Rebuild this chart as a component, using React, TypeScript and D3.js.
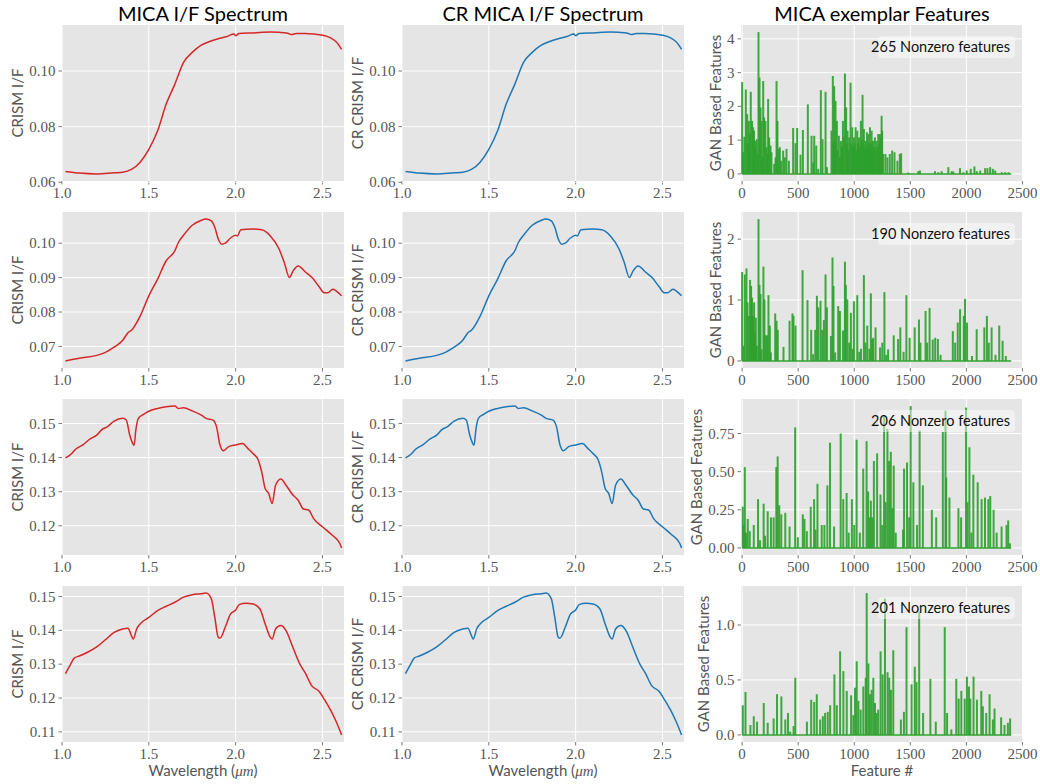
import React from 'react';
import * as d3 from 'd3';

const titles = ['MICA I/F Spectrum', 'CR MICA I/F Spectrum', 'MICA exemplar Features'];
const yLabels = ['CRISM I/F', 'CR CRISM I/F', 'GAN Based Features'];
const xLabels = ['Wavelength (', 'Feature #'];

// spectra: [wavelength um, I/F]
const spectrum1: [number, number][] = [
  [1.02, 0.0639], [1.1, 0.0633], [1.2, 0.0630], [1.3, 0.0634], [1.35, 0.0636], [1.4, 0.0646],
  [1.45, 0.0672], [1.5, 0.0718], [1.55, 0.0784], [1.6, 0.0881], [1.65, 0.0953], [1.7, 0.1031],
  [1.75, 0.1067], [1.8, 0.1092], [1.85, 0.1106], [1.9, 0.1116], [1.95, 0.1124], [1.99, 0.1133],
  [2.0, 0.1127], [2.02, 0.1135], [2.1, 0.1137], [2.2, 0.1140], [2.25, 0.1139], [2.3, 0.1136],
  [2.32, 0.1131], [2.35, 0.1135], [2.4, 0.1135], [2.45, 0.1133], [2.5, 0.1129], [2.55, 0.1118],
  [2.58, 0.1104], [2.61, 0.1078],
];
const spectrum2: [number, number][] = [
  [1.02, 0.0658], [1.1, 0.0666], [1.2, 0.0674], [1.25, 0.0683], [1.3, 0.0698], [1.35, 0.0718],
  [1.38, 0.0740], [1.4, 0.0747], [1.45, 0.0788], [1.5, 0.0847], [1.55, 0.0895], [1.6, 0.0949],
  [1.65, 0.0978], [1.67, 0.1002], [1.7, 0.1023], [1.75, 0.1052], [1.8, 0.1066], [1.83, 0.1070],
  [1.86, 0.1065], [1.88, 0.1046], [1.9, 0.1012], [1.92, 0.0997], [1.94, 0.1000], [1.97, 0.1015],
  [2.0, 0.1023], [2.01, 0.1021], [2.03, 0.1039], [2.1, 0.1041], [2.15, 0.1039], [2.2, 0.1021],
  [2.25, 0.0983], [2.28, 0.0944], [2.31, 0.0900], [2.33, 0.0919], [2.36, 0.0934], [2.4, 0.0917],
  [2.44, 0.0900], [2.48, 0.0874], [2.51, 0.0856], [2.53, 0.0856], [2.56, 0.0866], [2.58, 0.0861],
  [2.61, 0.0847],
];
const spectrum3: [number, number][] = [
  [1.02, 0.1399], [1.05, 0.1409], [1.08, 0.1425], [1.12, 0.1437], [1.16, 0.1454], [1.2, 0.1466],
  [1.23, 0.1482], [1.26, 0.1490], [1.3, 0.1507], [1.35, 0.1515], [1.37, 0.1510], [1.39, 0.1466],
  [1.405, 0.1444], [1.415, 0.1436], [1.425, 0.1480], [1.44, 0.1515], [1.47, 0.1527], [1.5, 0.1536],
  [1.55, 0.1544], [1.6, 0.1549], [1.65, 0.1551], [1.67, 0.1544], [1.7, 0.1546], [1.75, 0.1537],
  [1.8, 0.1525], [1.83, 0.1515], [1.87, 0.1510], [1.89, 0.1490], [1.91, 0.1437], [1.93, 0.1420],
  [1.96, 0.1432], [2.0, 0.1437], [2.04, 0.1441], [2.07, 0.1427], [2.1, 0.1412], [2.13, 0.1393],
  [2.15, 0.1358], [2.17, 0.1309], [2.19, 0.1295], [2.21, 0.1265], [2.23, 0.1319], [2.26, 0.1337],
  [2.29, 0.1319], [2.33, 0.1290], [2.36, 0.1275], [2.39, 0.1249], [2.42, 0.1246], [2.45, 0.1220],
  [2.5, 0.1197], [2.55, 0.1175], [2.6, 0.1148], [2.61, 0.1135],
];
const spectrum4: [number, number][] = [
  [1.02, 0.1272], [1.05, 0.1300], [1.07, 0.1318], [1.1, 0.1324], [1.15, 0.1336], [1.2, 0.1351],
  [1.25, 0.1372], [1.3, 0.1394], [1.35, 0.1404], [1.38, 0.1406], [1.4, 0.1384], [1.41, 0.1374],
  [1.43, 0.1404], [1.46, 0.1424], [1.5, 0.1438], [1.55, 0.1458], [1.6, 0.1471], [1.65, 0.1483],
  [1.7, 0.1498], [1.75, 0.1505], [1.8, 0.1508], [1.83, 0.1510], [1.86, 0.1493], [1.88, 0.1438],
  [1.9, 0.1379], [1.91, 0.1377], [1.94, 0.1409], [1.97, 0.1448], [2.0, 0.1460], [2.02, 0.1476],
  [2.06, 0.1480], [2.1, 0.1478], [2.14, 0.1463], [2.17, 0.1419], [2.2, 0.1379], [2.21, 0.1374],
  [2.23, 0.1404], [2.26, 0.1414], [2.29, 0.1399], [2.33, 0.1349], [2.37, 0.1300], [2.4, 0.1275],
  [2.44, 0.1235], [2.48, 0.1220], [2.5, 0.1205], [2.55, 0.1161], [2.58, 0.1129], [2.61, 0.1091],
];
const spectra = [spectrum1, spectrum2, spectrum3, spectrum4];
const spectrumYTicks = [
  [0.06, 0.08, 0.10],
  [0.07, 0.08, 0.09, 0.10],
  [0.12, 0.13, 0.14, 0.15],
  [0.11, 0.12, 0.13, 0.14, 0.15],
];
const wavelengthTicks = [1.0, 1.5, 2.0, 2.5];

// nonzero GAN features: [feature index, value]
const features1: [number, number][] = [
  [0, 2.72], [9, 0.64], [20, 1.1], [33, 2.5], [45, 1.77], [52, 0.9], [60, 1.57], [68, 1.2], [77, 2.43],
  [89, 1.57], [98, 1.38], [107, 1.28], [113, 0.8], [119, 0.98], [131, 1.03], [138, 0.6], [146, 4.2],
  [155, 2.85], [164, 1.97], [173, 1.57], [180, 0.5], [188, 2.75], [196, 1.67], [208, 1.57],
  [217, 0.79], [225, 0.6], [232, 2.22], [241, 1.08], [253, 0.84], [262, 0.64], [286, 0.3],
  [298, 0.49], [307, 2.75], [315, 1.57], [327, 0.74], [336, 0.79], [348, 0.39], [366, 0.69],
  [381, 0.49], [396, 0.74], [417, 0.39], [455, 1.36], [476, 0.91], [491, 1.36], [521, 0.57],
  [542, 1.3], [586, 2.06], [619, 1.13], [634, 0.34], [643, 1.13], [661, 0.84], [679, 0.15],
  [702, 2.48], [717, 1.03], [744, 2.43], [756, 0.2], [797, 1.28], [809, 2.9], [815, 0.9],
  [821, 2.6], [827, 1.0], [833, 2.16], [845, 1.57], [851, 0.7], [863, 1.13], [872, 0.5],
  [881, 0.98], [890, 0.8], [899, 1.57], [905, 1.1], [917, 2.97], [928, 1.97], [934, 0.9],
  [940, 1.28], [948, 0.7], [955, 1.08], [967, 2.7], [975, 0.9], [982, 1.38], [990, 0.8],
  [997, 1.08], [1005, 0.9], [1012, 1.38], [1020, 0.7], [1027, 1.28], [1035, 0.9], [1042, 1.08],
  [1050, 0.8], [1059, 1.57], [1066, 1.0], [1074, 2.34], [1080, 0.9], [1086, 1.33], [1092, 0.7],
  [1098, 0.98], [1105, 0.8], [1113, 1.23], [1119, 0.9], [1125, 1.18], [1132, 0.8], [1140, 1.38],
  [1147, 0.9], [1155, 1.28], [1160, 0.7], [1167, 0.98], [1175, 0.8], [1184, 1.08], [1190, 0.7],
  [1199, 0.98], [1206, 0.8], [1214, 1.18], [1221, 0.9], [1229, 1.18], [1237, 1.05], [1244, 1.72],
  [1249, 1.28], [1258, 0.59], [1278, 0.59], [1296, 0.49], [1317, 0.59], [1338, 0.69],
  [1359, 0.64], [1385, 0.39], [1406, 0.59], [1418, 0.61], [1481, 0.04], [1571, 0.08],
  [1586, 0.1], [1720, 0.08], [1750, 0.05], [1780, 0.08], [1839, 0.2], [1869, 0.08], [1884, 0.07],
  [1943, 0.17], [1973, 0.05], [2003, 0.1], [2039, 0.15], [2072, 0.22], [2093, 0.08], [2123, 0.1],
  [2167, 0.17], [2188, 0.17], [2212, 0.2], [2236, 0.15], [2257, 0.1], [2316, 0.05], [2346, 0.05],
  [2376, 0.05],
];
const features2: [number, number][] = [
  [0, 1.46], [12, 0.25], [24, 1.42], [39, 1.52], [48, 0.96], [60, 0.74], [71, 1.33], [80, 1.23],
  [89, 1.04], [98, 0.74], [107, 0.96], [113, 0.47], [122, 0.71], [131, 0.25], [146, 2.33],
  [155, 1.25], [164, 1.1], [173, 0.19], [190, 1.55], [199, 1.01], [211, 0.42], [223, 0.42],
  [235, 1.08], [247, 0.58], [256, 0.14], [295, 0.78], [307, 0.66], [318, 0.51], [369, 0.23],
  [423, 0.66], [449, 0.78], [458, 0.74], [476, 0.58], [539, 1.49], [583, 1.0], [616, 0.51],
  [634, 0.11], [652, 0.51], [667, 1.07], [679, 0.88], [699, 0.99], [714, 0.51], [729, 0.67],
  [744, 1.42], [756, 0.88], [792, 0.41], [806, 1.7], [815, 1.23], [830, 0.14], [857, 0.9],
  [872, 0.82], [900, 0.5], [917, 1.63], [925, 1.25], [938, 1.01], [955, 0.3], [970, 0.79],
  [985, 0.2], [997, 0.98], [1027, 1.08], [1045, 0.15], [1060, 0.2], [1086, 1.41], [1100, 0.3],
  [1116, 0.58], [1135, 0.2], [1148, 1.11], [1160, 0.35], [1169, 0.38], [1190, 0.55],
  [1230, 0.22], [1250, 0.3], [1269, 1.13], [1285, 0.1], [1302, 0.19], [1352, 0.42], [1391, 0.36],
  [1411, 0.55], [1440, 0.15], [1465, 1.08], [1494, 0.38], [1539, 0.55], [1577, 0.68], [1590, 0.3],
  [1636, 0.82], [1650, 0.3], [1672, 0.87], [1700, 0.35], [1722, 0.38], [1746, 0.36], [1770, 0.1],
  [1879, 0.49], [1900, 0.3], [1923, 0.63], [1944, 0.85], [1977, 0.74], [1988, 1.02], [2006, 0.63],
  [2050, 0.08], [2092, 0.52], [2160, 0.55], [2183, 0.74], [2200, 0.3], [2225, 0.55], [2260, 0.1],
  [2293, 0.58], [2323, 0.33], [2352, 0.08],
];
const features3: [number, number][] = [
  [6, 0.27], [15, 0.15], [24, 0.53], [35, 0.1], [50, 0.19], [68, 0.11], [104, 0.15], [142, 0.32],
  [160, 0.05], [192, 0.29], [205, 0.08], [228, 0.24], [257, 0.2], [281, 0.2], [305, 0.53],
  [317, 0.6], [331, 0.28], [349, 0.22], [385, 0.23], [423, 0.14], [473, 0.79], [497, 0.07],
  [541, 0.22], [556, 0.19], [577, 0.11], [612, 0.27], [642, 0.32], [655, 0.12], [672, 0.42],
  [710, 0.15], [734, 0.15], [760, 0.41], [784, 0.69], [820, 0.14], [879, 0.75], [902, 0.32],
  [932, 0.36], [950, 0.1], [979, 0.32], [1000, 0.15], [1021, 0.71], [1050, 0.1], [1080, 0.52],
  [1110, 0.7], [1124, 0.37], [1135, 0.2], [1148, 0.31], [1160, 0.2], [1175, 0.57], [1204, 0.62],
  [1234, 0.35], [1250, 0.15], [1266, 0.86], [1280, 0.3], [1296, 0.78], [1311, 0.57], [1326, 0.63],
  [1340, 0.26], [1352, 0.54], [1370, 0.1], [1435, 0.12], [1444, 0.52], [1471, 0.56], [1490, 0.2],
  [1503, 0.93], [1527, 0.43], [1560, 0.15], [1583, 0.77], [1612, 0.41], [1692, 0.25],
  [1731, 0.2], [1790, 0.76], [1814, 0.9], [1820, 0.46], [1849, 0.33], [1929, 0.26], [1953, 0.2],
  [1997, 0.92], [2010, 0.3], [2027, 0.66], [2045, 0.1], [2062, 0.48], [2101, 0.43], [2136, 0.32],
  [2166, 0.33], [2196, 0.32], [2213, 0.34], [2243, 0.25], [2270, 0.1], [2314, 0.14], [2358, 0.15],
  [2373, 0.18], [2388, 0.03],
];
const features4: [number, number][] = [
  [6, 0.27], [30, 0.39], [74, 0.09], [104, 0.17], [133, 0.12], [193, 0.29], [228, 0.11],
  [281, 0.15], [311, 0.37], [350, 0.35], [385, 0.14], [409, 0.2], [429, 0.03], [459, 0.08],
  [474, 0.52], [578, 0.12], [616, 0.32], [643, 0.3], [666, 0.37], [696, 0.14], [720, 0.17],
  [740, 0.2], [764, 0.21], [785, 0.27], [823, 0.55], [844, 0.27], [874, 0.76], [903, 0.58],
  [933, 0.4], [972, 0.36], [992, 0.18], [1007, 0.43], [1022, 0.67], [1037, 0.31], [1057, 0.23],
  [1081, 0.44], [1102, 0.52], [1111, 1.29], [1126, 0.65], [1140, 0.37], [1155, 0.41],
  [1170, 0.52], [1185, 0.29], [1200, 0.2], [1214, 0.23], [1235, 0.76], [1253, 0.55], [1274, 1.24],
  [1297, 0.57], [1312, 0.52], [1327, 0.41], [1348, 0.77], [1416, 0.14], [1443, 0.21], [1466, 0.98],
  [1511, 0.46], [1540, 0.62], [1555, 0.48], [1579, 1.12], [1614, 0.2], [1679, 0.51], [1727, 0.12],
  [1807, 0.98], [1828, 0.2], [1866, 0.05], [1910, 0.51], [1931, 0.33], [1955, 0.4], [1985, 0.33],
  [2005, 0.53], [2023, 0.44], [2035, 0.33], [2064, 0.53], [2094, 0.32], [2133, 0.4], [2147, 0.26],
  [2177, 0.2], [2207, 0.37], [2236, 0.14], [2251, 0.24], [2310, 0.16], [2340, 0.09], [2370, 0.11],
  [2390, 0.15],
];
const featureSets = [features1, features2, features3, features4];
const nonzeroCounts = [265, 190, 206, 201];
const featureYTicks = [[0, 1, 2, 3, 4], [0, 1, 2], [0, 0.25, 0.5, 0.75], [0, 0.5, 1.0]];
const featureYFormats = ['d', 'd', '.2f', '.1f'];
const featureXTicks = [0, 500, 1000, 1500, 2000, 2500];
const N_FEATURES = 2400;

const colLeft = [62, 402, 741];
const plotW = 282;
const plotH = 156;
const rowTop = (r: number) => 25 + r * 187;

const tickFont = 'Liberation Serif, serif';
const sansFont = 'Lato, Open Sans, sans-serif';
const grey = '#555555';
const TICK_SIZE = 15;

function pad(lo: number, hi: number): [number, number] {
  const m = (hi - lo) * 0.05;
  return [lo - m, hi + m];
}

// rough width of a serif tick label, used to place the y-axis title like matplotlib does
function labelWidth(s: string) {
  let w = 0;
  for (const ch of s) w += ch === '.' ? 0.25 : 0.5;
  return w * TICK_SIZE;
}

function Frame({ x, y, xs, ys, xTicks, yTicks, xFmt, yFmt, yLabel }: any) {
  const yTexts = yTicks.map((t: number) => d3.format(yFmt)(t));
  const maxW = d3.max(yTexts, (s: string) => labelWidth(s)) as number;
  return (
    <g>
      <rect x={x} y={y} width={plotW} height={plotH} fill="#E5E5E5" />
      {xTicks.map((t: number) => (
        <g key={'x' + t}>
          <line x1={xs(t)} x2={xs(t)} y1={y} y2={y + plotH} stroke="#fff" strokeWidth={1} />
          <line x1={xs(t)} x2={xs(t)} y1={y + plotH} y2={y + plotH + 3.5} stroke={grey} strokeWidth={0.8} />
          <text x={xs(t)} y={y + plotH + 17} textAnchor="middle" style={{ fontFamily: tickFont, fontSize: TICK_SIZE }} fill={grey}>
            {d3.format(xFmt)(t)}
          </text>
        </g>
      ))}
      {yTicks.map((t: number, i: number) => (
        <g key={'y' + t}>
          <line x1={x} x2={x + plotW} y1={ys(t)} y2={ys(t)} stroke="#fff" strokeWidth={1} />
          <line x1={x - 3.5} x2={x} y1={ys(t)} y2={ys(t)} stroke={grey} strokeWidth={0.8} />
          <text x={x - 6.5} y={ys(t)} dy="0.34em" textAnchor="end" style={{ fontFamily: tickFont, fontSize: TICK_SIZE }} fill={grey}>
            {yTexts[i]}
          </text>
        </g>
      ))}
      <text transform={`translate(${x - 8 - maxW - 5},${y + plotH / 2}) rotate(-90)`} textAnchor="middle"
        style={{ fontFamily: sansFont, fontSize: 15 }} fill={grey}>{yLabel}</text>
    </g>
  );
}

function SpectrumPanel({ row, col, color }: { row: number; col: number; color: string }) {
  const data = spectra[row];
  const x = colLeft[col];
  const y = rowTop(row);
  const xs = d3.scaleLinear().domain([1.0, 2.624]).range([x, x + plotW]);
  const ext = d3.extent(data, (d) => d[1]) as [number, number];
  const ys = d3.scaleLinear().domain(pad(ext[0], ext[1])).range([y + plotH, y]);
  const line = d3.line<[number, number]>()
    .curve(d3.curveMonotoneX)
    .x((d) => xs(d[0]))
    .y((d) => ys(d[1]));
  return (
    <g>
      <Frame x={x} y={y} xs={xs} ys={ys} xTicks={wavelengthTicks} yTicks={spectrumYTicks[row]} xFmt=".1f" yFmt=".2f" yLabel={yLabels[col]} />
      <path d={line(data) || ''} fill="none" stroke={color} strokeWidth={1.5} />
    </g>
  );
}

function FeaturePanel({ row }: { row: number }) {
  const data = featureSets[row];
  const x = colLeft[2];
  const y = rowTop(row);
  const xs = d3.scaleLinear().domain([-10, 2505]).range([x, x + plotW]);
  const ys = d3.scaleLinear().domain(pad(0, d3.max(data, (d) => d[1]) as number)).range([y + plotH, y]);
  const boxW = 137;
  const boxX = x + plotW - 8 - boxW;
  const boxY = y + 11;
  return (
    <g>
      <Frame x={x} y={y} xs={xs} ys={ys} xTicks={featureXTicks} yTicks={featureYTicks[row]} xFmt="d" yFmt={featureYFormats[row]} yLabel={yLabels[2]} />
      <line x1={xs(0)} x2={xs(N_FEATURES)} y1={ys(0)} y2={ys(0)} stroke="#2ca02c" strokeWidth={1.5} />
      {data.map((d) => (
        <rect key={d[0]} x={xs(d[0]) - 1} width={2} y={ys(d[1])} height={ys(0) - ys(d[1])}
          fill="#2ca02c" fillOpacity={0.9} />
      ))}
      <rect x={boxX} y={boxY} width={boxW} height={22} rx={4} fill="#ffffff" fillOpacity={0.45} />
      <text x={boxX + boxW - 5} y={boxY + 16} textAnchor="end" style={{ fontFamily: sansFont, fontSize: 14.5 }} fill="#111">
        {nonzeroCounts[row]} Nonzero features
      </text>
    </g>
  );
}

export default function App() {
  const rows = [0, 1, 2, 3];
  const lastBottom = rowTop(3) + plotH;
  return (
    <svg width={1040} height={784} style={{ position: 'absolute', left: 0, top: 0, background: '#fff' }}>
      {titles.map((t, i) => (
        <text key={t} x={colLeft[i] + plotW / 2} y={21} textAnchor="middle" style={{ fontFamily: sansFont, fontSize: 20 }} fill="#000">{t}</text>
      ))}
      {rows.map((r) => (
        <g key={r}>
          <SpectrumPanel row={r} col={0} color="#d62728" />
          <SpectrumPanel row={r} col={1} color="#1f77b4" />
          <FeaturePanel row={r} />
        </g>
      ))}
      {[0, 1].map((c) => (
        <text key={c} x={colLeft[c] + plotW / 2} y={lastBottom + 34} textAnchor="middle" style={{ fontFamily: sansFont, fontSize: 15 }} fill={grey}>
          {xLabels[0]}<tspan style={{ fontFamily: tickFont, fontStyle: 'italic' }}>{'\u03bcm'}</tspan>)
        </text>
      ))}
      <text x={colLeft[2] + plotW / 2} y={lastBottom + 34} textAnchor="middle" style={{ fontFamily: sansFont, fontSize: 15 }} fill={grey}>
        {xLabels[1]}
      </text>
    </svg>
  );
}
